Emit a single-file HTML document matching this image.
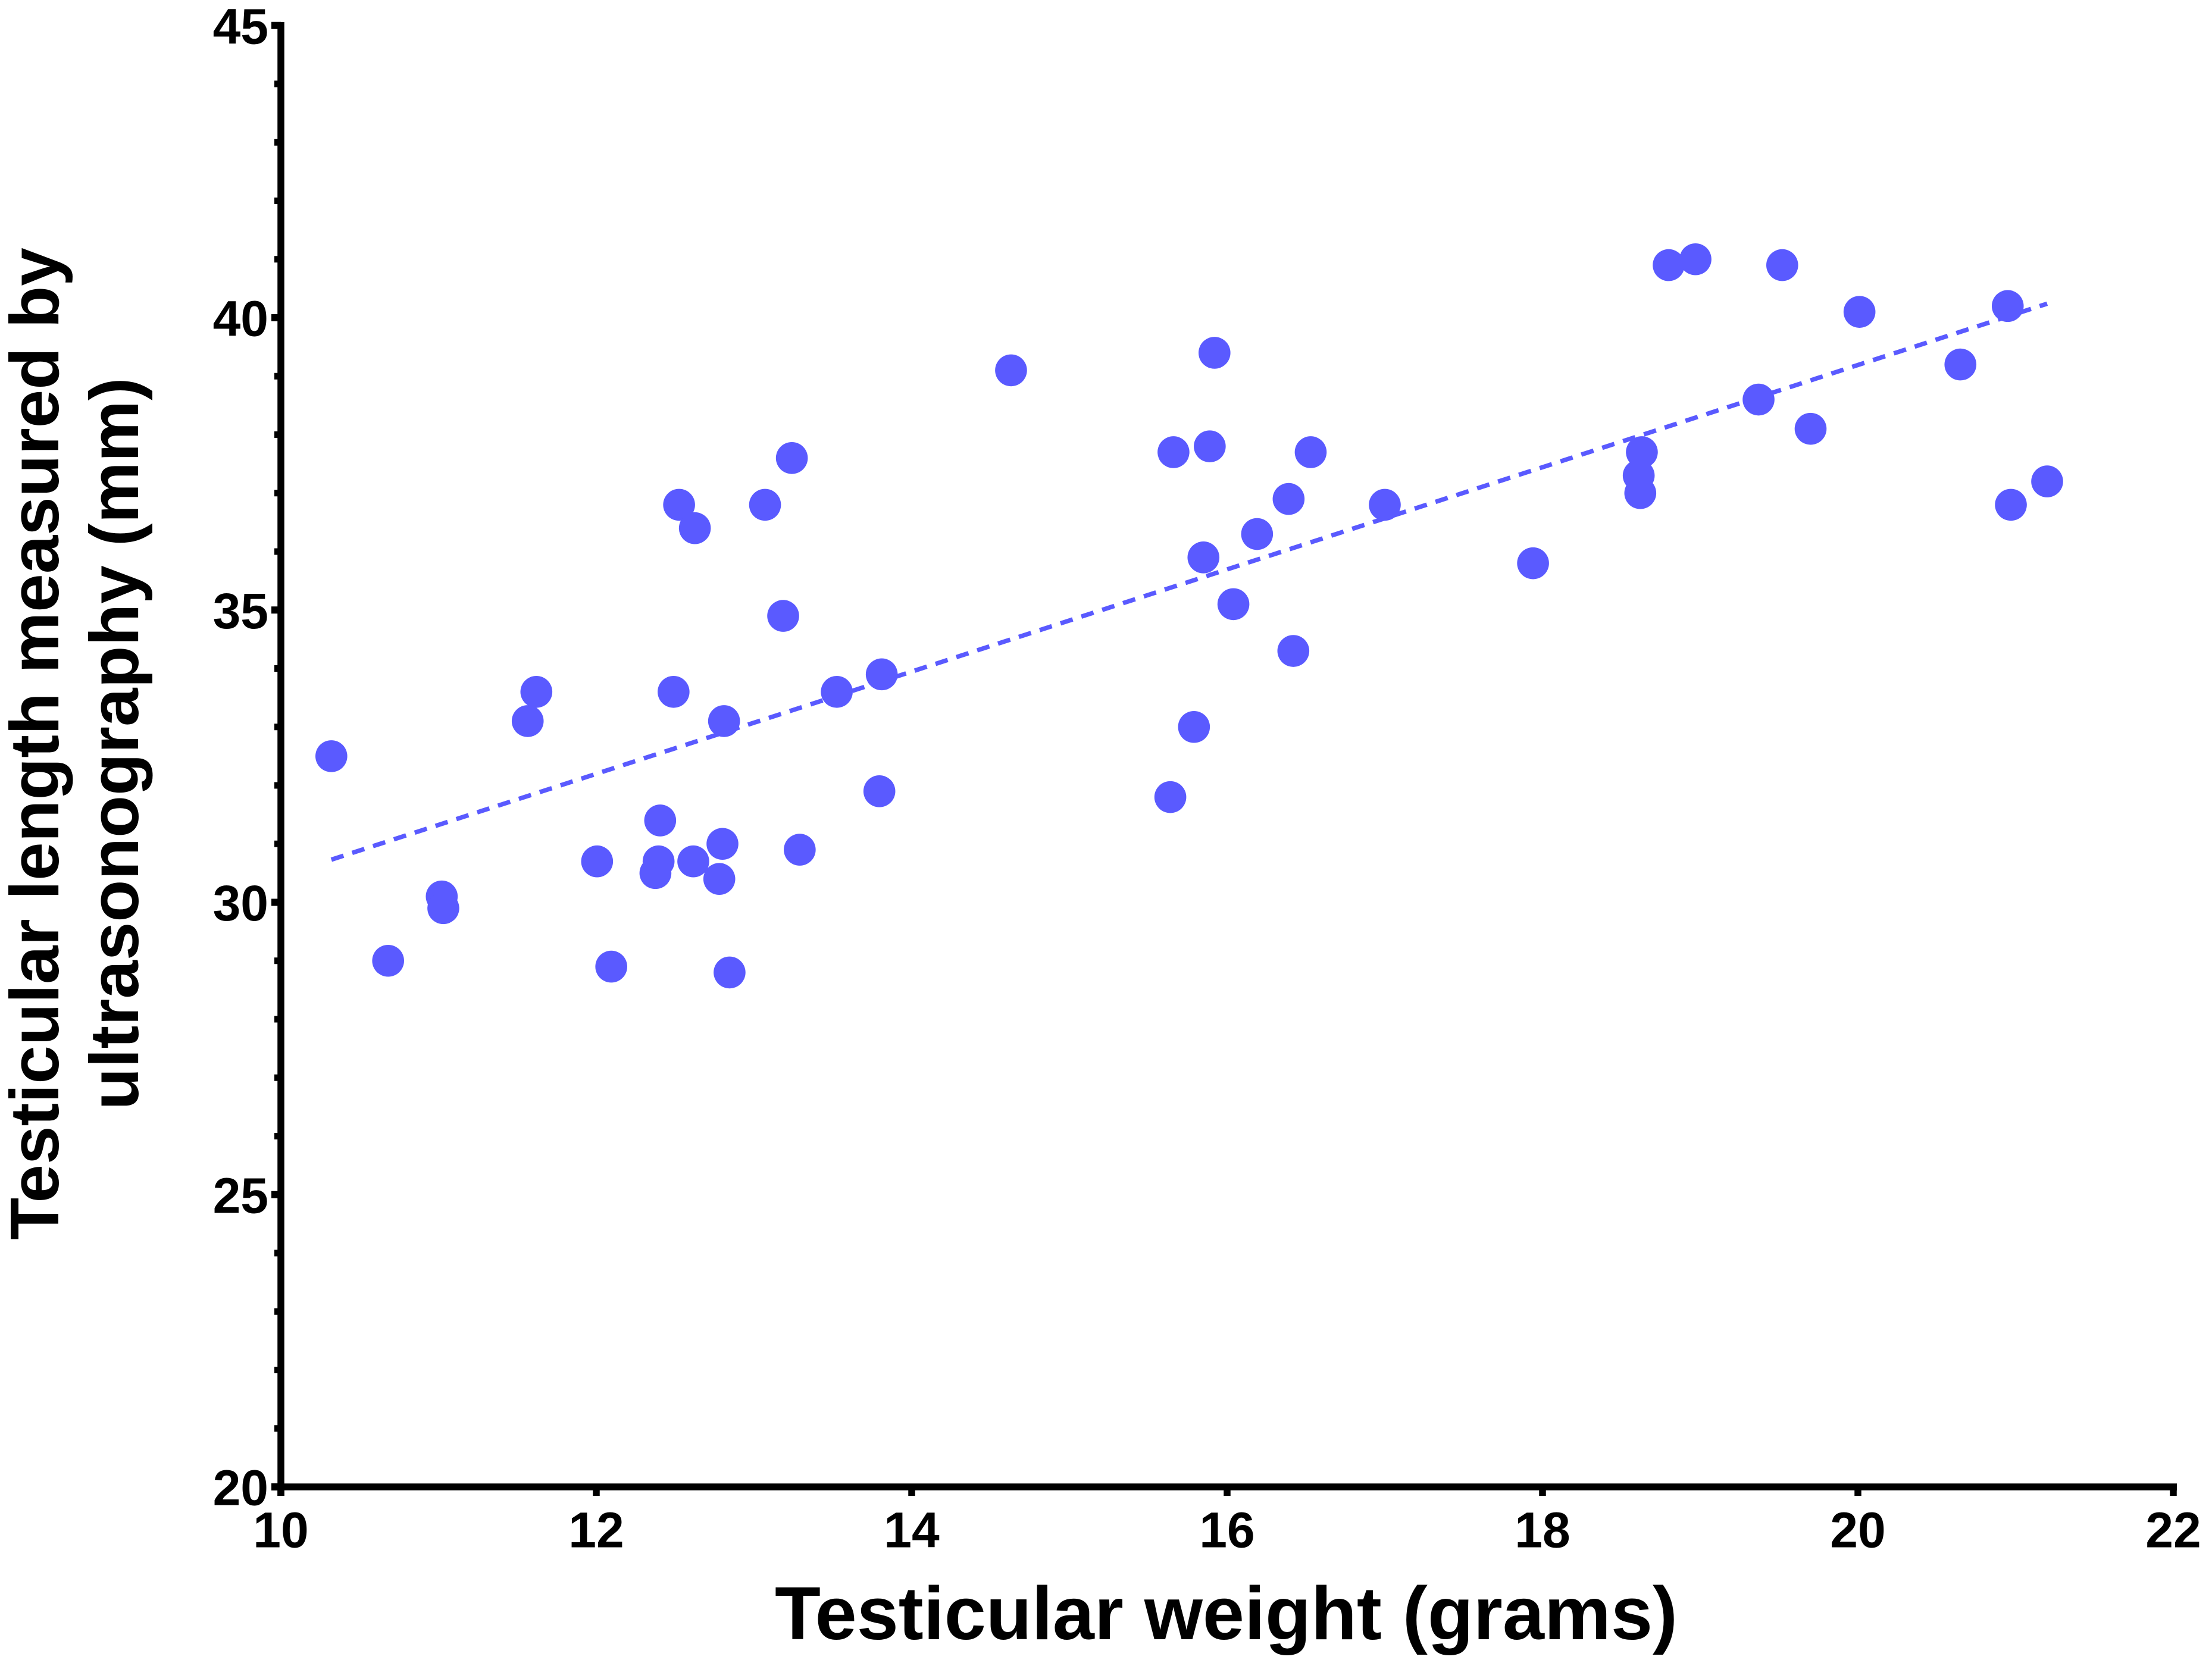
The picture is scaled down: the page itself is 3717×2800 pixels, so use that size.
<!DOCTYPE html>
<html lang="en">
<head>
<meta charset="utf-8">
<title>Testicular length vs weight</title>
<style>
html,body{margin:0;padding:0;background:#fff;}
svg{display:block;}
text{font-family:"Liberation Sans",Arial,sans-serif;font-weight:bold;fill:#000;}
</style>
</head>
<body>
<svg id="chart" xmlns="http://www.w3.org/2000/svg" width="3717" height="2800" viewBox="0 0 3717 2800">
  <rect x="0" y="0" width="3717" height="2800" fill="#ffffff"/>
  <g id="axes"></g>
  <g id="trend"></g>
  <g id="points"></g>
  <text x="1302" y="2755" font-size="126">Testicular weight (grams)</text>
  <text transform="translate(98 1250) rotate(-90)" text-anchor="middle" font-size="116">Testicular length measured by</text>
  <text transform="translate(232 1250) rotate(-90)" text-anchor="middle" font-size="116">ultrasonography (mm)</text>
</svg>
<script>
const xValues = [10.32,10.68,11.02,11.03,11.565,11.62,12.005,12.095,12.375,12.395,12.405,12.49,12.525,12.615,12.625,12.78,12.8,12.81,12.845,13.07,13.185,13.24,13.29,13.525,13.795,13.81,14.63,15.64,15.66,15.79,15.85,15.89,15.92,16.04,16.19,16.39,16.42,16.53,17.0,17.94,18.62,18.61,18.63,18.8,18.97,19.37,19.52,19.7,20.01,20.65,20.95,20.97,21.2];
const yValues = [32.5,29.0,30.1,29.9,33.1,33.6,30.7,28.9,30.5,30.7,31.4,33.6,36.8,30.7,36.4,30.4,31.0,33.1,28.8,36.8,34.9,37.6,30.9,33.6,31.9,33.9,39.1,31.8,37.7,33.0,35.9,37.8,39.4,35.1,36.3,36.9,34.3,37.7,36.8,35.8,37.0,37.3,37.7,40.9,41.0,38.6,40.9,38.1,40.1,39.2,40.2,36.8,37.2];
const fitX = [10.32,21.2];
const fitY = [30.73,40.24];
const xTicks = [10,12,14,16,18,20,22];
const yMajorTicks = [20,25,30,35,40,45];
const yMinorTicks = [21,22,23,24,26,27,28,29,31,32,33,34,36,37,38,39,41,42,43,44];

const NS = 'http://www.w3.org/2000/svg';
function sx(v){ return 472 + (v - 10) * 265; }
function sy(v){ return 2499 - (v - 20) * 98.25; }
function make(tag, parent, attrs){
  const el = document.createElementNS(NS, tag);
  for (const k in attrs) el.setAttribute(k, attrs[k]);
  parent.appendChild(el);
  return el;
}
const axes = document.getElementById('axes');
const trend = document.getElementById('trend');
const points = document.getElementById('points');

const yAxisLine = make('line', axes, {x1:472, y1:37, x2:472, y2:2514, stroke:'#000', 'stroke-width':11.5});


const xAxisLine = make('line', axes, {x1:466, y1:2499, x2:3658, y2:2499, stroke:'#000', 'stroke-width':11.5});



yMajorTicks.forEach(function(v){
  const t = make('line', axes, {x1:456, y1:sy(v), x2:472, y2:sy(v), stroke:'#000', 'stroke-width':12});
  
  
  const label = make('text', axes, {x:451, y:sy(v) + 30.5, 'text-anchor':'end', 'font-size':84});
  label.textContent = String(v);
  
  
});
yMinorTicks.forEach(function(v){
  const t = make('line', axes, {x1:461, y1:sy(v), x2:472, y2:sy(v), stroke:'#000', 'stroke-width':11});
  
  
});
xTicks.forEach(function(v){
  const t = make('line', axes, {x1:sx(v), y1:2499, x2:sx(v), y2:2514, stroke:'#000', 'stroke-width':11.5});
  
  
  const label = make('text', axes, {x:sx(v), y:2600.5, 'text-anchor':'middle', 'font-size':84});
  label.textContent = String(v);
  
  
});

const fit = make('line', trend, {x1:sx(fitX[0]), y1:sy(fitY[0]), x2:sx(fitX[1]), y2:sy(fitY[1]), stroke:'#5A5AFF', 'stroke-width':7.5, 'stroke-dasharray':'21.5 15.3'});



xValues.forEach(function(x, i){
  const c = make('circle', points, {cx:sx(x), cy:sy(yValues[i]), r:26.8, fill:'#5A5AFF'});
  
  
});
</script>
</body>
</html>
